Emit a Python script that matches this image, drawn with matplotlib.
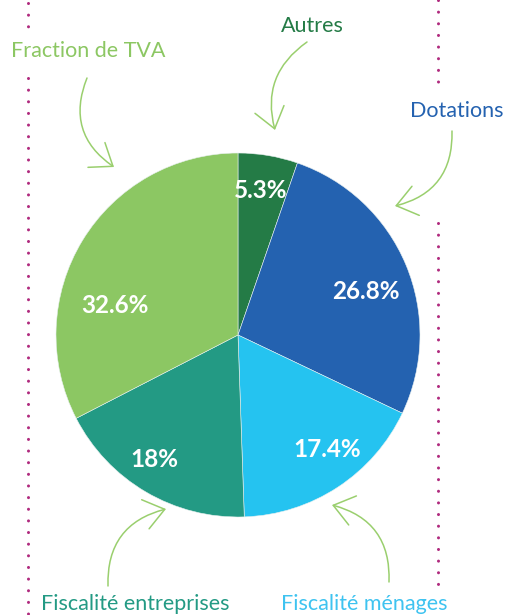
import matplotlib.pyplot as plt
from matplotlib.patches import FancyArrowPatch

# data
categories = ["Autres", "Dotations", "Fiscalité ménages", "Fiscalité entreprises", "Fraction de TVA"]
shares = [5.3, 26.8, 17.4, 18, 32.6]
pct_labels = ["5.3%", "26.8%", "17.4%", "18%", "32.6%"]
colors = ["#247B46", "#2462B0", "#25C3F0", "#239A84", "#8CC763"]

W, H = 507, 615
fig = plt.figure(figsize=(W / 100, H / 100), dpi=100)
ax = fig.add_axes([0, 0, 1, 1])


def Y(py):  # pixel row -> axes y
    return H - py


# pie
ax.pie(shares, colors=colors, startangle=90, counterclock=False,
       center=(238, Y(335)), radius=182, frame=True,
       wedgeprops=dict(linewidth=0.4, edgecolor="#e8f0f0"))
ax.set_xlim(0, W)
ax.set_ylim(0, H)
ax.set_aspect("equal")
ax.axis("off")

# percent labels (x centre, baseline row)
pct_pos = [(261, 198), (366, 299), (327, 457), (154, 467), (115, 313)]
for (px, py), t in zip(pct_pos, pct_labels):
    ax.text(px, Y(py), t, color="white", fontsize=17.5, fontweight="bold",
            family="Lato", ha="center", va="baseline")

# category labels
name_pos = [(312, 32), (457, 117), (364, 610), (135, 610), (88, 57)]
name_col = ["#247B46", "#2462B0", "#3EC3F0", "#239A84", "#8CC763"]
for (px, py), t, c in zip(name_pos, categories, name_col):
    ax.text(px, Y(py), t, color=c, fontsize=15.5, family="Lato",
            ha="center", va="baseline")

# curved arrows
arrows = [
    ((307, 42), (275, 130), 0.35),
    ((452, 131), (395, 206), -0.4),
    ((389, 582), (332, 505), 0.4),
    ((108, 586), (166, 509), -0.4),
    ((87, 78), (114, 167), 0.4),
]
for (x0, y0), (x1, y1), rad in arrows:
    ax.add_patch(FancyArrowPatch((x0, Y(y0)), (x1, Y(y1)),
                                 connectionstyle=f"arc3,rad={rad}",
                                 arrowstyle="->,head_length=0.8,head_width=0.6",
                                 mutation_scale=18, shrinkA=0, shrinkB=0,
                                 color="#9ACF6E", lw=1.1))

# dotted separators
dot = dict(color="#B02A7E", lw=2.2, linestyle=(0, (0.01, 3.8)),
           dash_capstyle="round")
ax.plot([28, 28], [Y(3), Y(33)], **dot)
ax.plot([28, 28], [Y(78), Y(615)], **dot)
ax.plot([438, 438], [Y(0), Y(90)], **dot)
ax.plot([438, 438], [Y(223), Y(588)], **dot)

fig.savefig("out.png", dpi=100)
